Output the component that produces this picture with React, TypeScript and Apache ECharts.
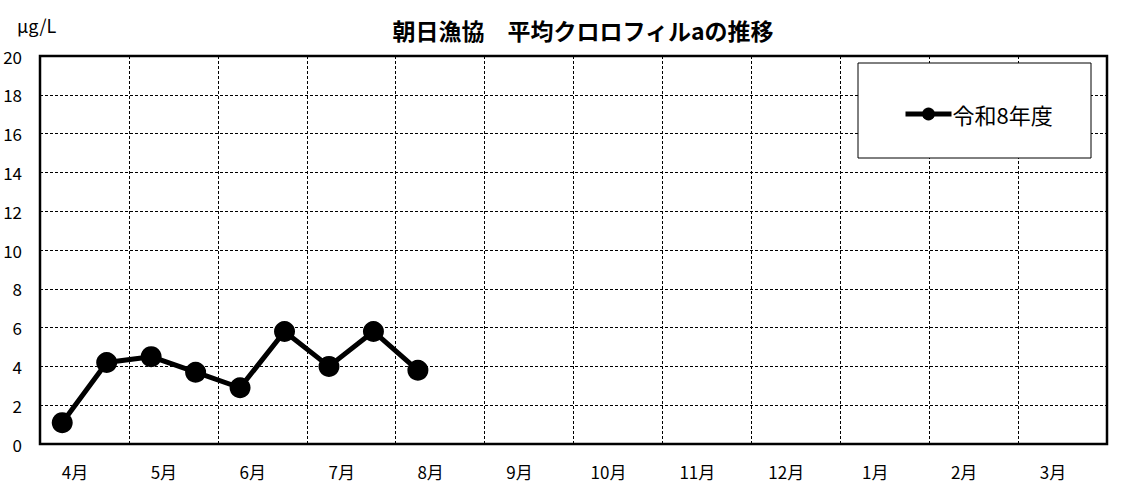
import React, { useEffect, useRef } from "react";
import * as echarts from "echarts";

const slots: string[] = [
  "4月上", "4月下", "5月上", "5月下", "6月上", "6月下", "7月上", "7月下",
  "8月上", "8月下", "9月上", "9月下", "10月上", "10月下", "11月上", "11月下",
  "12月上", "12月下", "1月上", "1月下", "2月上", "2月下", "3月上", "3月下",
];
const months: string[] = ["4月", "5月", "6月", "7月", "8月", "9月", "10月", "11月", "12月", "1月", "2月", "3月"];
const r8Values: (number | null)[] = [1.1, 4.2, 4.5, 3.7, 2.9, 5.8, 4.0, 5.8, 3.8];
const seriesName = "令和8年度";
const titleText = "朝日漁協　平均クロロフィルaの推移";
const unitText = "μg/L";

const FONT = "'Noto Sans CJK JP', 'Noto Sans', sans-serif";

export default function App() {
  const ref = useRef<HTMLDivElement>(null);
  useEffect(() => {
    if (!ref.current) return;
    const chart = echarts.init(ref.current, undefined, { renderer: "svg" });
    const dash = [3, 2];
    chart.setOption({
      animation: false,
      backgroundColor: "#fff",
      textStyle: { fontFamily: FONT, color: "#000" },
      title: {
        text: titleText,
        left: 578,
        top: 13,
        textAlign: "center",
        textStyle: { fontSize: 23, fontWeight: "bold", color: "#000", fontFamily: FONT },
      },
      graphic: [
        {
          type: "text",
          left: 17,
          top: 16,
          style: { text: unitText, fontSize: 18, fill: "#000", fontFamily: FONT },
        },
        {
          type: "rect",
          shape: { x: 858, y: 63, width: 233, height: 95 },
          style: { fill: "#fff", stroke: "#000", lineWidth: 1 },
          z: 5,
        },
      ],
      legend: {
        left: 898,
        top: 98,
        itemWidth: 46,
        itemHeight: 16,
        itemGap: 2,
        z: 10,
        lineStyle: { width: 5, color: "#000" },
        itemStyle: { color: "#000" },
        textStyle: { fontSize: 22, color: "#000", fontFamily: FONT, padding: [0, 0, 0, -4] },
        data: [seriesName],
      },
      grid: {
        left: 40,
        right: 20,
        top: 56,
        bottom: 50,
        show: true,
        borderColor: "#000",
        borderWidth: 2.5,
        backgroundColor: "transparent",
        containLabel: false,
      },
      xAxis: [
        {
          type: "category",
          data: slots,
          boundaryGap: true,
          axisLine: { show: false },
          axisTick: { show: false },
          axisLabel: { show: false },
          splitLine: {
            show: true,
            interval: 1,
            lineStyle: { color: "#000", width: 1, type: dash },
          },
        },
        {
          type: "category",
          data: months,
          position: "bottom",
          boundaryGap: true,
          axisLine: { show: false },
          axisTick: { show: false },
          splitLine: { show: false },
          axisLabel: {
            show: true,
            interval: 0,
            margin: 19,
            fontSize: 17,
            color: "#000",
            fontFamily: FONT,
            padding: [0, 19, 0, 0],
          },
        },
      ],
      yAxis: {
        type: "value",
        min: 0,
        max: 20,
        interval: 2,
        axisLine: { show: false },
        axisTick: { show: false },
        axisLabel: { fontSize: 17, color: "#000", margin: 18, fontFamily: FONT },
        splitLine: { show: true, lineStyle: { color: "#000", width: 1, type: dash } },
      },
      series: [
        {
          name: seriesName,
          type: "line",
          xAxisIndex: 0,
          data: r8Values,
          symbol: "circle",
          symbolSize: 21,
          lineStyle: { color: "#000", width: 5 },
          itemStyle: { color: "#000" },
          z: 3,
        },
      ],
    });
    return () => chart.dispose();
  }, []);
  return <div ref={ref} style={{ position: "fixed", left: 0, top: 0, width: 1127, height: 494 }} />;
}
